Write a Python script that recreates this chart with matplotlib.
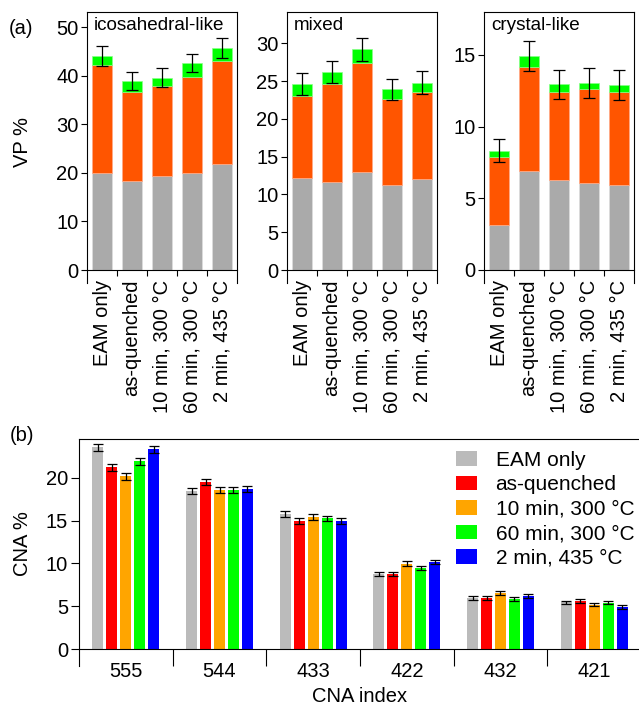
import matplotlib
matplotlib.use("Agg")
import matplotlib.pyplot as plt
import numpy as np
from matplotlib.ticker import FixedLocator, MultipleLocator

plt.rcParams['font.family'] = ['Liberation Sans', 'DejaVu Sans']
plt.rcParams['font.size'] = 14.5

conditions = ["EAM only", "as-quenched", "10 min, 300 °C", "60 min, 300 °C", "2 min, 435 °C"]

# VP stacked segments (gray / orange / green) + error on total
ico_gray = [19.9, 18.3, 19.3, 19.9, 21.8]
ico_orange = [22.3, 18.3, 18.6, 19.9, 21.3]
ico_green = [1.9, 2.35, 1.7, 2.8, 2.6]
ico_err = [2.1, 1.85, 2.0, 1.9, 2.0]

mix_gray = [12.2, 11.7, 13.0, 11.3, 12.1]
mix_orange = [10.85, 12.95, 14.4, 11.35, 11.5]
mix_green = [1.55, 1.5, 1.8, 1.25, 1.2]
mix_err = [1.5, 1.45, 1.55, 1.4, 1.5]

cry_gray = [3.12, 6.88, 6.28, 6.07, 5.93]
cry_orange = [4.74, 7.26, 6.16, 6.53, 6.47]
cry_green = [0.47, 0.81, 0.51, 0.45, 0.5]
cry_err = [0.83, 1.05, 1.03, 1.05, 1.05]

# CNA
cna_index = ["555", "544", "433", "422", "432", "421"]
cna_eam = [23.57, 18.45, 15.77, 8.74, 5.94, 5.44]
cna_asq = [21.2, 19.5, 14.95, 8.78, 5.98, 5.63]
cna_10min = [20.16, 18.6, 15.42, 9.98, 6.52, 5.17]
cna_60min = [21.94, 18.6, 15.26, 9.48, 5.86, 5.40]
cna_2min = [23.34, 18.72, 14.95, 10.17, 6.21, 4.93]
cna_err = [0.4, 0.35, 0.3, 0.25, 0.2, 0.2]

W, H = 639, 709
fig = plt.figure(figsize=(W/100, H/100), dpi=100)

def px_axes(x0, y0, x1, y1):
    return fig.add_axes([x0/W, 1-y1/H, (x1-x0)/W, (y1-y0)/H])

panels = [
    ("icosahedral-like", ico_gray, ico_orange, ico_green, ico_err, (-2.67, 53.1), 10, 87),
    ("mixed", mix_gray, mix_orange, mix_green, mix_err, (-1.72, 34.14), 5, 287),
    ("crystal-like", cry_gray, cry_orange, cry_green, cry_err, (-0.907, 18.0), 5, 484),
]

x = np.arange(len(conditions))
for name, g, o, gr, err, ylim, step, left in panels:
    ax = px_axes(left, 12, left+150, 283)
    g = np.array(g); o = np.array(o); gr = np.array(gr)
    ax.bar(x, g, 0.667, color='#aaaaaa', edgecolor='#dddddd', linewidth=0.5)
    ax.bar(x, o, 0.667, bottom=g, color='#ff5500', edgecolor='#ffaa88', linewidth=0.5)
    ax.bar(x, gr, 0.667, bottom=g+o, color='#00ff00', edgecolor='#88ff88', linewidth=0.5)
    ax.errorbar(x, g+o+gr, yerr=err, fmt='none', ecolor='black', elinewidth=0.9, capsize=4, capthick=0.9)
    ax.set_xlim(-0.5, 4.5)
    ax.set_ylim(*ylim)
    ax.yaxis.set_major_locator(MultipleLocator(step))
    ax.spines['bottom'].set_position(('data', 0))
    ax.set_xticks(x)
    ax.set_xticklabels(conditions, rotation=90)
    ax.tick_params(axis='x', which='major', length=0, pad=7)
    ax.xaxis.set_minor_locator(FixedLocator(x[:-1] + 0.5))
    ax.tick_params(axis='x', which='minor', length=4, direction='out', width=0.8)
    ax.tick_params(axis='y', length=4, width=0.8, pad=2)
    for s in ax.spines.values():
        s.set_linewidth(0.8)
    ax.text(0.047, 0.982, name, transform=ax.transAxes, ha='left', va='top', fontsize=13.6)

fig.text(23/W, 1-142/H, "VP %", rotation=90, ha='center', va='center')
fig.text(21/W, 1-28/H, "(a)", ha='center', va='center')

# CNA panel
ax = px_axes(79, 439, 641, 666)
series = [cna_eam, cna_asq, cna_10min, cna_60min, cna_2min]
colors = ['#bbbbbb', '#ff0000', '#ffa500', '#00ff00', '#0000ff']
xg = np.arange(len(cna_index))
for k, (vals, c, lab) in enumerate(zip(series, colors, conditions)):
    ax.bar(xg + (k-2)*0.149, vals, 0.117, color=c, label=lab,
           yerr=cna_err, error_kw=dict(ecolor='black', elinewidth=0.9, capsize=3.6, capthick=0.9))
ax.set_xlim(-0.5, 5.5)
ax.set_ylim(-1.98, 24.52)
ax.yaxis.set_major_locator(MultipleLocator(5))
ax.spines['bottom'].set_position(('data', 0))
ax.spines['right'].set_visible(False)
ax.set_xticks(xg)
ax.set_xticklabels(cna_index)
ax.tick_params(axis='x', which='major', length=0, pad=9)
ax.xaxis.set_minor_locator(FixedLocator(xg[:-1] + 0.5))
ax.tick_params(axis='x', which='minor', length=12, direction='out', width=0.8)
ax.tick_params(axis='y', length=6, width=0.8, pad=2)
for s in ax.spines.values():
    s.set_linewidth(0.8)
ax.legend(loc='upper left', bbox_to_anchor=(456/W, 1-451/H), bbox_transform=fig.transFigure,
          frameon=False, handlelength=1.0, handleheight=0.7, handletextpad=0.9,
          labelspacing=0.26, borderpad=0, borderaxespad=0, fontsize=15)

fig.text(360/W, 1-697/H, "CNA index", ha='center', va='center')
fig.text(23/W, 1-544/H, "CNA %", rotation=90, ha='center', va='center')
fig.text(22/W, 1-435/H, "(b)", ha='center', va='center')

fig.savefig("out.png", dpi=100)
